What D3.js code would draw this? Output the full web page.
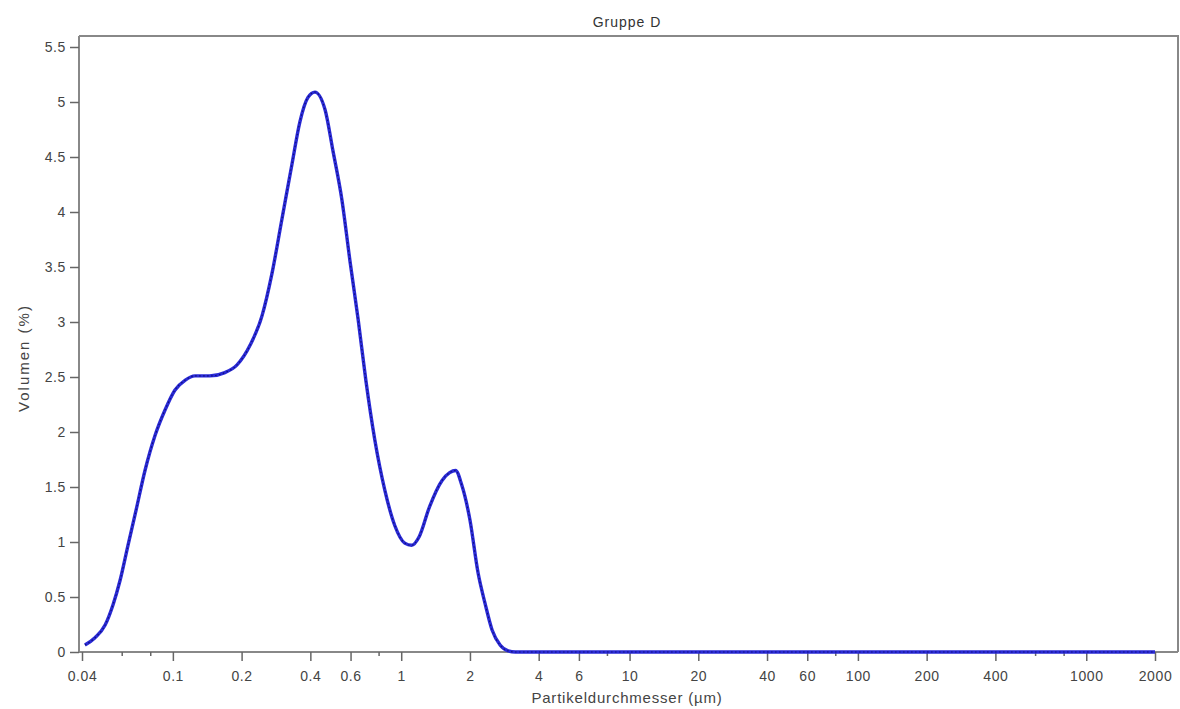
<!DOCTYPE html>
<html>
<head>
<meta charset="utf-8">
<script src="https://cdn.jsdelivr.net/npm/d3@7/dist/d3.min.js"></script>
<style>
  body { margin: 0; background: #fff; }
  svg { font-family: "Liberation Sans", Arial, sans-serif; }
  .tick text { fill: #444; font-size: 14px; letter-spacing: 0.6px; }
</style>
</head>
<body>
<div id="chart"></div>
<script>
// Daten
const durchmesser = [0.0412, 0.0456, 0.0505, 0.0547, 0.0587, 0.0636, 0.069, 0.0755, 0.0836, 0.0924,
  0.102, 0.113, 0.125, 0.145, 0.169, 0.191, 0.218, 0.246, 0.271, 0.3, 0.332, 0.36, 0.39, 0.419,
  0.464, 0.502, 0.55, 0.596, 0.648, 0.70, 0.766, 0.848, 0.937, 1.036, 1.11, 1.2, 1.33, 1.51, 1.63,
  1.73, 1.84, 2.0, 2.17, 2.33, 2.5, 2.71, 2.94, 3.16, 5, 10, 50, 100, 500, 1000, 2000];
const volumen = [0.064, 0.13, 0.245, 0.43, 0.65, 0.97, 1.29, 1.65, 1.97, 2.2,
  2.38, 2.47, 2.51, 2.51, 2.54, 2.61, 2.79, 3.06, 3.43, 3.93, 4.43, 4.82, 5.04, 5.09,
  4.93, 4.56, 4.11, 3.56, 3.02, 2.47, 1.93, 1.47, 1.15, 0.99, 0.97, 1.05, 1.32, 1.56, 1.63,
  1.65, 1.52, 1.2, 0.72, 0.44, 0.2, 0.064, 0.01, 0, 0, 0, 0, 0, 0, 0, 0];

const xTicks = [0.04, 0.1, 0.2, 0.4, 0.6, 1, 2, 4, 6, 10, 20, 40, 60, 100, 200, 400, 1000, 2000];
const xMinor = [0.06, 0.08, 0.8, 8, 80, 600, 800];
const yTicks = [0, 0.5, 1, 1.5, 2, 2.5, 3, 3.5, 4, 4.5, 5, 5.5];

const width = 1180, height = 709;
const margin = { left: 79, top: 36, right: 2, bottom: 57 };

const svg = d3.select("#chart").append("svg")
  .attr("width", width)
  .attr("height", height);

const x = d3.scaleLog()
  .domain([0.04, 2000])
  .range([82, 1155]);

const y = d3.scaleLinear()
  .domain([0, 5.5])
  .range([652, 47]);

// Rahmen oben/rechts
svg.append("path")
  .attr("d", "M" + margin.left + "," + margin.top + "H" + (width - margin.right) + "V" + (height - margin.bottom))
  .attr("fill", "none")
  .attr("stroke", "#888")
  .attr("stroke-width", 2);

// x-Achse
const xAxis = svg.append("g")
  .attr("transform", "translate(0," + (height - margin.bottom) + ")")
  .call(d3.axisBottom(x).tickValues(xTicks).tickFormat(d => String(d)).tickSize(9).tickPadding(10));
xAxis.select(".domain").attr("d", "M" + margin.left + ",0H" + (width - margin.right)).attr("stroke", "#888").attr("stroke-width", 2);
xAxis.selectAll(".tick line").attr("stroke", "#666").attr("stroke-width", 1.5);

svg.append("g")
  .attr("transform", "translate(0," + (height - margin.bottom) + ")")
  .selectAll("line")
  .data(xMinor)
  .enter().append("line")
  .attr("x1", d => x(d)).attr("x2", d => x(d))
  .attr("y1", 0).attr("y2", 4)
  .attr("stroke", "#666").attr("stroke-width", 1.5);

// y-Achse
const yAxis = svg.append("g")
  .attr("transform", "translate(" + margin.left + ",0)")
  .call(d3.axisLeft(y).tickValues(yTicks).tickFormat(d => String(d)).tickSize(9).tickPadding(4));
yAxis.select(".domain").attr("d", "M0," + margin.top + "V" + (height - margin.bottom)).attr("stroke", "#888").attr("stroke-width", 2);
yAxis.selectAll(".tick line").attr("stroke", "#666").attr("stroke-width", 1.5);

// Kurve
const line = d3.line()
  .x((d, i) => x(durchmesser[i]))
  .y(d => y(d))
  .curve(d3.curveMonotoneX);

svg.append("path")
  .datum(volumen)
  .attr("d", line)
  .attr("fill", "none")
  .attr("stroke", "#2a2ad6")
  .attr("stroke-width", 3.4);

svg.append("path")
  .datum(volumen)
  .attr("d", line)
  .attr("fill", "none")
  .attr("stroke", "#10107a")
  .attr("stroke-width", 1.2)
  .attr("stroke-dasharray", "1.5,2.5");

// Titel und Beschriftungen
svg.append("text")
  .attr("x", 627).attr("y", 27)
  .attr("text-anchor", "middle")
  .attr("font-size", 14)
  .attr("letter-spacing", 1)
  .attr("fill", "#333")
  .text("Gruppe D");

svg.append("text")
  .attr("x", 627).attr("y", 703)
  .attr("text-anchor", "middle")
  .attr("font-size", 15)
  .attr("letter-spacing", 0.8)
  .attr("fill", "#444")
  .text("Partikeldurchmesser (µm)");

svg.append("text")
  .attr("transform", "translate(29,358) rotate(-90)")
  .attr("text-anchor", "middle")
  .attr("font-size", 15)
  .attr("letter-spacing", 2)
  .attr("fill", "#444")
  .text("Volumen (%)");
</script>
</body>
</html>
